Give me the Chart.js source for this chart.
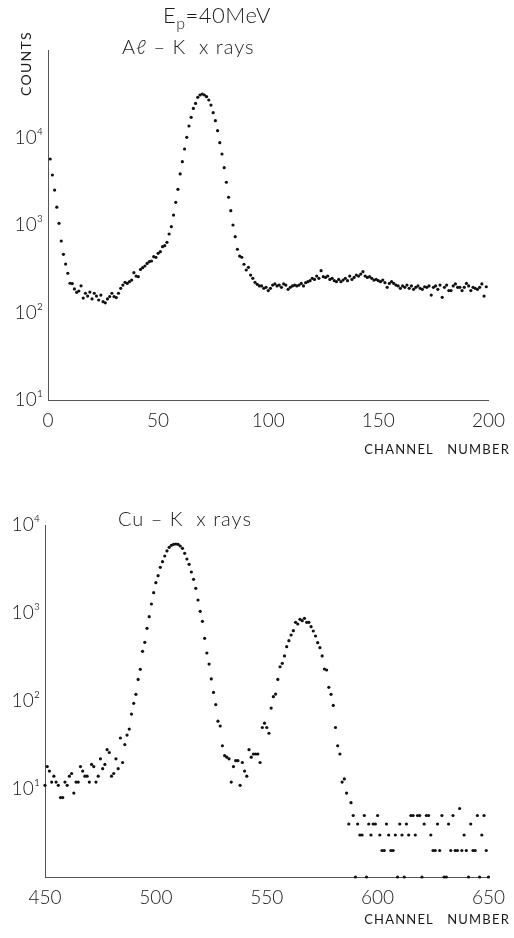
<!DOCTYPE html>
<html>
<head>
<meta charset="utf-8">
<title>Al-K and Cu-K x rays, Ep = 40 MeV</title>
<script src="https://cdn.jsdelivr.net/npm/chart.js@4/dist/chart.umd.min.js"></script>
<style>
  html, body { margin: 0; padding: 0; background: #fff; }
  body { width: 514px; height: 938px; position: relative; overflow: hidden;
         font-family: 'Lato', 'DejaVu Sans', sans-serif; font-weight: 300; color: #1a1a1a; }
  .panel { position: absolute; left: 0; width: 514px; }
  #panel-al { top: 0; height: 470px; }
  #panel-cu { top: 470px; height: 468px; }
  .txt { position: absolute; white-space: pre; line-height: 1; }
  #ep { left: 163px; top: 4px; font-size: 22px; letter-spacing: 0.5px; }
  #ep sub { font-size: 16px; vertical-align: -6px; }
  #al { left: 122px; top: 36px; font-size: 20px; letter-spacing: 1px; }
  #cu { left: 118px; top: 508px; font-size: 20px; letter-spacing: 1px; }
  #counts { left: 19px; top: 96px; font-size: 14px; font-weight: 400; letter-spacing: 1.3px;
            transform: rotate(-90deg); transform-origin: 0 0; }
  .chan { right: 4px; font-size: 13px; font-weight: 400; letter-spacing: 1.2px; }
  #chan-al { top: 443px; }
  #chan-cu { top: 913px; }
</style>
</head>
<body>
<div class="panel" id="panel-al"><canvas id="alChart" width="514" height="470"></canvas></div>
<div class="panel" id="panel-cu"><canvas id="cuChart" width="514" height="468"></canvas></div>

<div class="txt" id="ep">E<sub>p</sub>=40MeV</div>
<div class="txt" id="al">Aℓ – K  x rays</div>
<div class="txt" id="counts">COUNTS</div>
<div class="txt chan" id="chan-al">CHANNEL   NUMBER</div>
<div class="txt" id="cu">Cu – K  x rays</div>
<div class="txt chan" id="chan-cu">CHANNEL   NUMBER</div>

<script>
// Al-K spectrum: counts per channel, starting at channel 1
const alFirstChannel = 1;
const alCounts = [
  5680, 3730, 2510, 1600, 1045, 656, 462, 358, 281, 216,
  214, 186, 170, 176, 202, 146, 166, 154, 171, 143,
  166, 154, 139, 158, 133, 129, 143, 152, 166, 152,
  148, 166, 189, 206, 221, 215, 225, 235, 285, 261,
  257, 311, 325, 340, 364, 381, 388, 435, 427, 475,
  496, 565, 580, 634, 789, 957, 1300, 1815, 2560, 3830,
  5300, 7390, 10050, 13530, 16990, 21520, 24540, 28760, 30600, 31420,
  30600, 29300, 26830, 23500, 19220, 15570, 11970, 8730, 6480, 4520,
  3080, 2075, 1457, 1000, 736, 528, 442, 428, 356, 306,
  328, 268, 246, 221, 210, 201, 201, 189, 194, 178,
  189, 206, 212, 201, 206, 194, 212, 206, 184, 194,
  201, 206, 201, 206, 215, 201, 219, 225, 231, 246,
  239, 261, 246, 301, 257, 252, 261, 239, 246, 231,
  225, 239, 225, 235, 246, 231, 261, 239, 252, 268,
  261, 275, 293, 261, 252, 257, 246, 235, 239, 231,
  225, 235, 219, 194, 215, 225, 215, 206, 201, 189,
  201, 194, 206, 189, 201, 184, 194, 201, 189, 184,
  197, 194, 201, 158, 194, 201, 184, 206, 149, 194,
  206, 178, 178, 201, 212, 194, 194, 178, 194, 215,
  201, 178, 194, 189, 184, 194, 212, 154, 197
];

// Cu-K spectrum: counts per channel, starting at channel 450
const cuFirstChannel = 450;
const cuCounts = [
  11, 18, 16, 12, 14, 12, 11, 8, 8, 12,
  11, 14, 15, 9, 12, 12, 18, 16, 14, 14,
  12, 19, 18, 12, 14, 22, 17, 19, 28, 26,
  14, 15, 22, 17, 38, 20, 32, 41, 48, 71,
  94, 119, 176, 229, 367, 464, 670, 908, 1266, 1702,
  2213, 2657, 3303, 3830, 4445, 5070, 5580, 5880, 6030, 6080,
  6030, 5770, 5430, 4770, 4110, 3575, 2925, 2415, 1907, 1405,
  1045, 804, 515, 351, 263, 178, 125, 91, 59, 52,
  31, 24, 23, 22, 12, 18, 21, 21, 11, 20,
  16, 14, 28, 23, 25, 25, 25, 20, 50, 56,
  50, 43, 83, 112, 120, 176, 245, 268, 325, 414,
  485, 562, 629, 784, 750, 848, 817, 871, 784, 784,
  700, 624, 548, 460, 404, 325, 231, 225, 143, 119,
  89, 50, 31, 25, 12, 13, 9, 4, 7, 5,
  1, 4, 3, 3, 5, 1, 4, 3, 4, 4,
  5, 3, 2, 2, 4, 3, 2, 2, 3, 1,
  4, 3, 1, 4, 3, 5, 5, 3, 5, 5,
  1, 4, 5, 5, 3, 2, 2, 4, 2, 5,
  1, 1, 4, 2, 5, 2, 2, 6, 2, 3,
  2, 1, 4, 2, 2, 5, 1, 3, 5, 2,
  1
];

// tick positions and their labels
const alXRange = [0, 200];
const cuXRange = [450, 650];
const xStep = 50;
const yDecades = [10, 100, 1000, 10000];
const yDecadeLabels = ['10¹', '10²', '10³', '10⁴'];

const tickFont = { family: "'Lato', 'DejaVu Sans', sans-serif", size: 19, weight: '300' };
const axisColor = '#555';

function toPoints(first, counts) {
  return counts.map((c, i) => ({ x: first + i, y: c }));
}

function makeOptions(xRange, yRange, pad, yWidth, xHeight) {
  return {
    responsive: false,
    animation: false,
    devicePixelRatio: 1,
    layout: { padding: pad },
    plugins: { legend: { display: false }, tooltip: { enabled: false } },
    scales: {
      x: {
        type: 'linear',
        min: xRange[0],
        max: xRange[1],
        grid: { display: false, drawTicks: false },
        border: { display: true, color: axisColor, width: 1 },
        ticks: { stepSize: xStep, padding: 9, color: '#1a1a1a', font: tickFont, maxRotation: 0 },
        afterFit: (scale) => { scale.height = xHeight; }
      },
      y: {
        type: 'logarithmic',
        min: yRange[0],
        max: yRange[1],
        grid: { display: false, drawTicks: false },
        border: { display: true, color: axisColor, width: 1 },
        afterBuildTicks: (scale) => { scale.ticks = yDecades.map(v => ({ value: v })); },
        ticks: {
          padding: 5,
          color: '#1a1a1a',
          font: tickFont,
          callback: (v) => {
            const k = yDecades.indexOf(v);
            return k >= 0 ? yDecadeLabels[k] : '';
          }
        },
        afterFit: (scale) => { scale.width = yWidth; }
      }
    }
  };
}

function makeDataset(first, counts) {
  return {
    data: toPoints(first, counts),
    showLine: false,
    pointRadius: 1.6,
    pointBorderWidth: 0,
    pointBackgroundColor: '#111',
    pointBorderColor: '#111',
    clip: false
  };
}

document.addEventListener('DOMContentLoaded', () => {
  // upper panel: Al-K x rays
  new Chart(document.getElementById('alChart').getContext('2d'), {
    type: 'scatter',
    data: { datasets: [makeDataset(alFirstChannel, alCounts)] },
    options: makeOptions(alXRange, [10, 100000], { top: 50, right: 19, left: 0, bottom: 0 }, 48, 70)
  });

  // lower panel: Cu-K x rays
  new Chart(document.getElementById('cuChart').getContext('2d'), {
    type: 'scatter',
    data: { datasets: [makeDataset(cuFirstChannel, cuCounts)] },
    options: makeOptions(cuXRange, [1, 10000], { top: 55, right: 24, left: 0, bottom: 0 }, 45, 61)
  });
});
</script>
</body>
</html>
